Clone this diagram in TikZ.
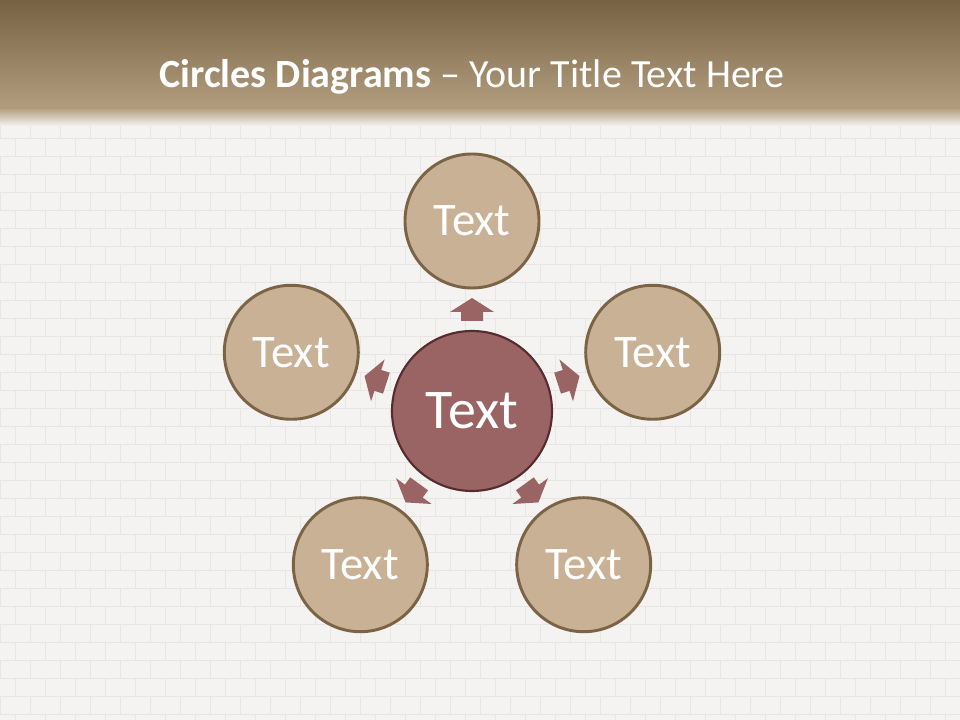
\documentclass[tikz,border=0pt]{standalone}
\usepackage{fontspec}
\setmainfont{Carlito}
\usetikzlibrary{calc}

\definecolor{wallbg}{HTML}{F4F3F1}
\definecolor{mortar}{HTML}{E8E6E3}
\definecolor{bartop}{HTML}{786244}
\definecolor{barbottom}{HTML}{B39D7F}
\definecolor{satfill}{HTML}{C9B196}
\definecolor{satline}{HTML}{7B6446}
\definecolor{hubfill}{HTML}{9B6464}
\definecolor{hubline}{HTML}{552D30}

\tikzset{
  satellite/.style={circle, draw=satline, line width=2.2pt, fill=satfill,
    minimum size=100.5pt, inner sep=0pt, text=white,
    font=\fontsize{35}{35}\selectfont},
  hub/.style={circle, draw=hubline, line width=1.6pt, fill=hubfill,
    minimum size=120pt, inner sep=0pt, text=white,
    font=\fontsize{42}{42}\selectfont},
  pics/pusharrow/.style={code={
    \fill[hubfill] (-11,-12) -- (-11,-3) -- (-22,-3) -- (0,11)
      -- (22,-3) -- (11,-3) -- (11,-12) -- cycle;
  }}
}

\begin{document}
\begin{tikzpicture}[x=0.75pt, y=0.75pt]

    % Fix the slide size
    \useasboundingbox (0,0) rectangle (960,720);

    % Draw the white brick wall
    \fill[wallbg] (0,0) rectangle (960,720);
    \foreach \r in {0,...,33} {
        \draw[mortar, line width=0.6pt] (0,{600-18*\r}) -- (960,{600-18*\r});
        \foreach \k in {0,...,32} {
            \draw[mortar, line width=0.6pt]
                ({30*\k+15*mod(\r,2)},{600-18*\r}) -- ++(0,-18);
        }
    }

    % Draw the title bar and its fade
    \shade[top color=bartop, bottom color=barbottom] (0,612) rectangle (960,720);
    \shade[top color=barbottom, bottom color=wallbg] (0,594) rectangle (960,612);

    % Add the title
    \node[text=white, font=\fontsize{30}{30}\selectfont, anchor=base] (title)
        at (472,632) {\textbf{Circles Diagrams} -- Your Title Text Here};

    % Define the center of the diagram
    \coordinate (O) at (472,309);

    % Draw the arrows pointing out of the hub
    \foreach \a in {90,18,-54,-126,162} {
        \pic[rotate=\a-90] at ($(O)+(\a:102)$) {pusharrow};
    }

    % Draw the hub
    \node[hub] (hub) at (O) {Text};

    % Draw the five outer circles
    \node[satellite] (top)         at ($(O)+(90:190)$)   {Text};
    \node[satellite] (right)       at ($(O)+(18:190)$)   {Text};
    \node[satellite] (bottomright) at ($(O)+(-54:190)$)  {Text};
    \node[satellite] (bottomleft)  at ($(O)+(-126:190)$) {Text};
    \node[satellite] (left)        at ($(O)+(162:190)$)  {Text};

\end{tikzpicture}
\end{document}
